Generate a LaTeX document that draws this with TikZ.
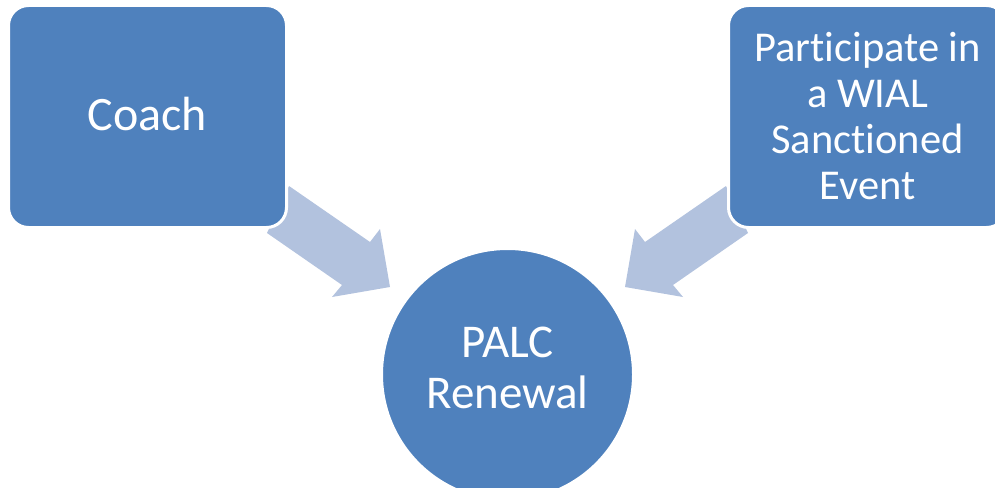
\documentclass[tikz,border=0pt]{standalone}
\usepackage{fontspec}
\setmainfont{Carlito}[Ligatures=NoCommon]
\definecolor{boxblue}{RGB}{79,129,189}
\definecolor{arrowblue}{RGB}{178,194,222}
\begin{document}
\begin{tikzpicture}[x=1pt,y=-1pt,
  blockarrow/.style={fill=arrowblue,draw=none},
  stepbox/.style={rectangle,rounded corners=20pt,fill=boxblue,draw=white,line width=3pt,
    minimum width=278pt,minimum height=222pt,inner sep=0pt,text=white,align=center},
  hubcircle/.style={circle,fill=boxblue,draw=white,line width=3pt,minimum size=252pt,
    inner sep=0pt,text=white,align=center}]
\useasboundingbox (0,0) rectangle (995,487);
\clip (0,0) rectangle (995,487);
% block arrows
\fill[blockarrow] (289,186) -- (370,242) -- (380,229) -- (390,287) -- (332,297) -- (342,285) -- (267,233) -- cycle;
\fill[blockarrow] (726,186) -- (645,242) -- (635,229) -- (625,287) -- (683,297) -- (673,285) -- (748,233) -- cycle;
% nodes
\node[stepbox,font=\fontsize{48}{52}\selectfont] (coach) at (147.5,116.5) {};
\node[text=white,font=\fontsize{48}{52}\selectfont] (coachtext) at (147.5,114.5) {Coach};
\node[stepbox,font=\fontsize{42.5}{46}\selectfont] (event) at (867.5,116.5) {Participate in\\a WIAL\\Sanctioned\\Event};
\node[hubcircle] (palc) at (507.5,374.5) {};
\node[text=white,align=center,font=\fontsize{47}{51}\selectfont] (palctext) at (507.5,368) {PALC\\Renewal};
\end{tikzpicture}
\end{document}
